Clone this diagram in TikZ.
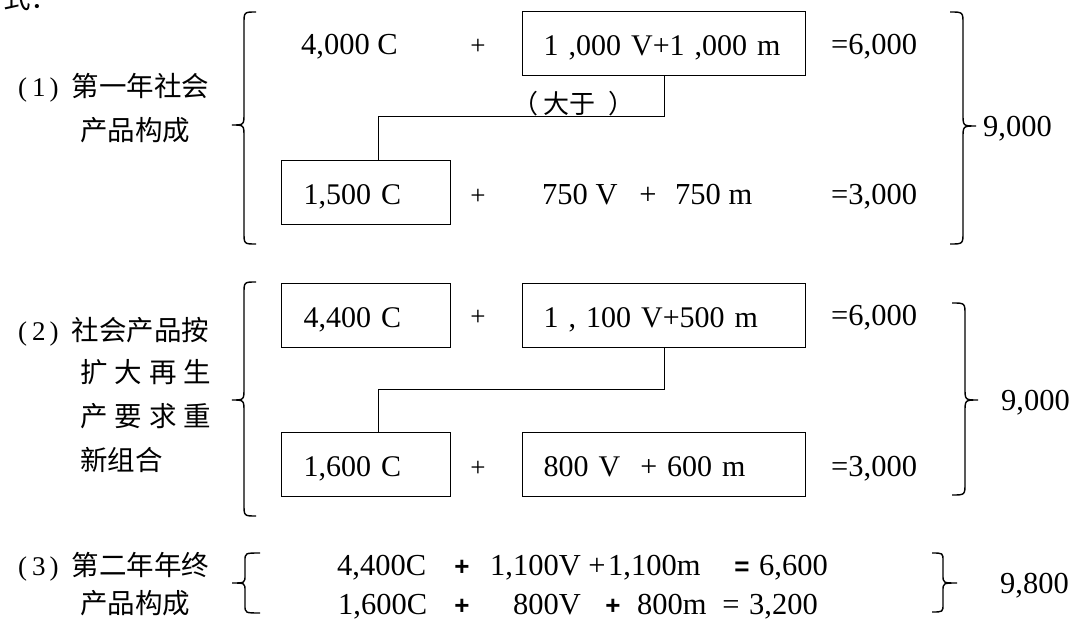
\documentclass[tikz,border=0pt]{standalone}
\usepackage{fontspec}
\setmainfont{Liberation Serif}
\newfontfamily\cjk{Noto Sans CJK SC}
\newfontfamily\arialf{Liberation Sans}
\newcommand\drawbrace[7]{\draw[brc] (#1,#4) .. controls (#2,#4) .. (#2,{#4+#7}) -- (#2,{#5-#7}) .. controls (#2,#5) .. (#3,#5) .. controls (#2,#5) .. (#2,{#5+#7}) -- (#2,{#6-#7}) .. controls (#2,#6) .. (#1,#6);}
\begin{document}
\begin{tikzpicture}[x=1pt,y=-1pt,
  lat/.style={inner sep=0pt, font=\fontsize{30.5}{36}\selectfont},
  latw/.style={lat, anchor=base west},
  latc/.style={lat, anchor=base},
  pl/.style={inner sep=0pt, anchor=base, font=\fontsize{27}{30}\selectfont},
  bpl/.style={inner sep=0pt, anchor=base, font=\arialf\bfseries\fontsize{26}{30}\selectfont},
  lab/.style={inner sep=0pt, anchor=base west, font=\cjk\fontsize{27.5}{32}\selectfont},
  box/.style={draw, line width=1.3pt, inner xsep=22pt, inner ysep=0pt, align=left,
    anchor=north west, minimum height=64pt, text height=27pt, text depth=3pt,
    font=\fontsize{30}{36}\selectfont},
  conn/.style={line width=1.3pt},
  brc/.style={line width=1.4pt}]
\useasboundingbox (0,0) rectangle (1076,620);
\newcommand\num[1]{{\rmfamily\fontsize{27}{30}\selectfont(\hspace{5pt}#1\hspace{4pt})}\hspace{13pt}}

% cut-off heading
\node[lab] (hd) at (3,9) {式：};

% ---------- section 1 ----------
\node[lab] (l1a) at (18,97) {\num{1}第一年社会};
\node[lab] (l1b) at (80,141) {产品构成};
\drawbrace{256}{244}{232}{12}{125}{244}{12}
\node[latw] (t1a) at (301,55) {4,000 C};
\node[pl] (p1a) at (478,55) {+};
\node[box, text width=241pt, inner xsep=21pt] (A) at (522,11) {1 ,000 V+1 ,000 m};
\node[latw] (e1a) at (831,55) {=6,000};
\node[lab, font=\cjk\fontsize{26}{28}\selectfont] (dy) at (512,114) {（\hspace{5pt}大于\hspace{13pt}）};
\node[box, text width=125pt] (B) at (281,160) {1,500 C};
\node[pl] (p1b) at (478,205) {+};
\node[latw] (t1b) at (542,205) {750 V};
\node[latc] (p1c) at (648,205) {+};
\node[latw] (t1c) at (675,205) {750 m};
\node[latw] (e1b) at (831,205) {=3,000};
\drawbrace{950}{963}{976}{12}{126}{244}{12}
\node[latw] (s1) at (983,137) {9,000};
\draw[conn] (A.south) -- ++(0,40) -| ([xshift=12.5pt]B.north);

% ---------- section 2 ----------
\node[lab] (l2a) at (18,341) {\num{2}社会产品按};
\node[lab] (l2b) at (80,382) {扩\hspace{7pt}大\hspace{7pt}再\hspace{7pt}生};
\node[lab] (l2c) at (80,426) {产\hspace{7pt}要\hspace{7pt}求\hspace{7pt}重};
\node[lab] (l2d) at (80,470) {新组合};
\drawbrace{256}{244}{232}{282}{400}{516}{12}
\node[box, text width=125pt] (C) at (281,283) {4,400 C};
\node[pl] (p2a) at (478,326) {+};
\node[box, text width=241pt, inner xsep=21pt] (D) at (522,283) {1 , 100 V+500 m};
\node[latw] (e2a) at (831,326) {=6,000};
\node[box, text width=125pt] (E) at (281,432) {1,600 C};
\node[pl] (p2b) at (478,476) {+};
\node[box, text width=241pt, inner xsep=21pt] (F) at (522,432) {800 V\ \ + 600 m};
\node[latw] (e2b) at (831,476) {=3,000};
\drawbrace{952}{965}{978}{303}{400}{495}{12}
\node[latw] (s2) at (1001,410) {9,000};
\draw[conn] (D.south) -- ++(0,41) -| ([xshift=12.5pt]E.north);

% ---------- section 3 ----------
\node[lab] (l3a) at (18,575) {\num{3}第二年年终};
\node[lab] (l3b) at (80,613) {产品构成};
\drawbrace{260}{245}{232}{553}{583}{613}{8}
\node[latw] (r1a) at (337,575) {4,400C};
\node[bpl] (r1p) at (462,575) {+};
\node[latw] (r1b) at (490,575) {1,100V};
\node[latc] (r1q) at (597,575) {+};
\node[latw] (r1c) at (608,575) {1,100m};
\node[bpl] (r1e) at (742,575) {=};
\node[latw] (r1d) at (759,575) {6,600};
\node[latw] (r2a) at (338,614) {1,600C};
\node[bpl] (r2p) at (462,614) {+};
\node[latw] (r2b) at (513,614) {800V};
\node[bpl] (r2q) at (613,614) {+};
\node[latw] (r2c) at (637,614) {800m};
\node[latc] (r2e) at (731,614) {=};
\node[latw] (r2d) at (749,614) {3,200};
\drawbrace{932}{943}{957}{553}{583}{612}{8}
\node[latw] (s3) at (1000,593) {9,800};
\end{tikzpicture}
\end{document}
